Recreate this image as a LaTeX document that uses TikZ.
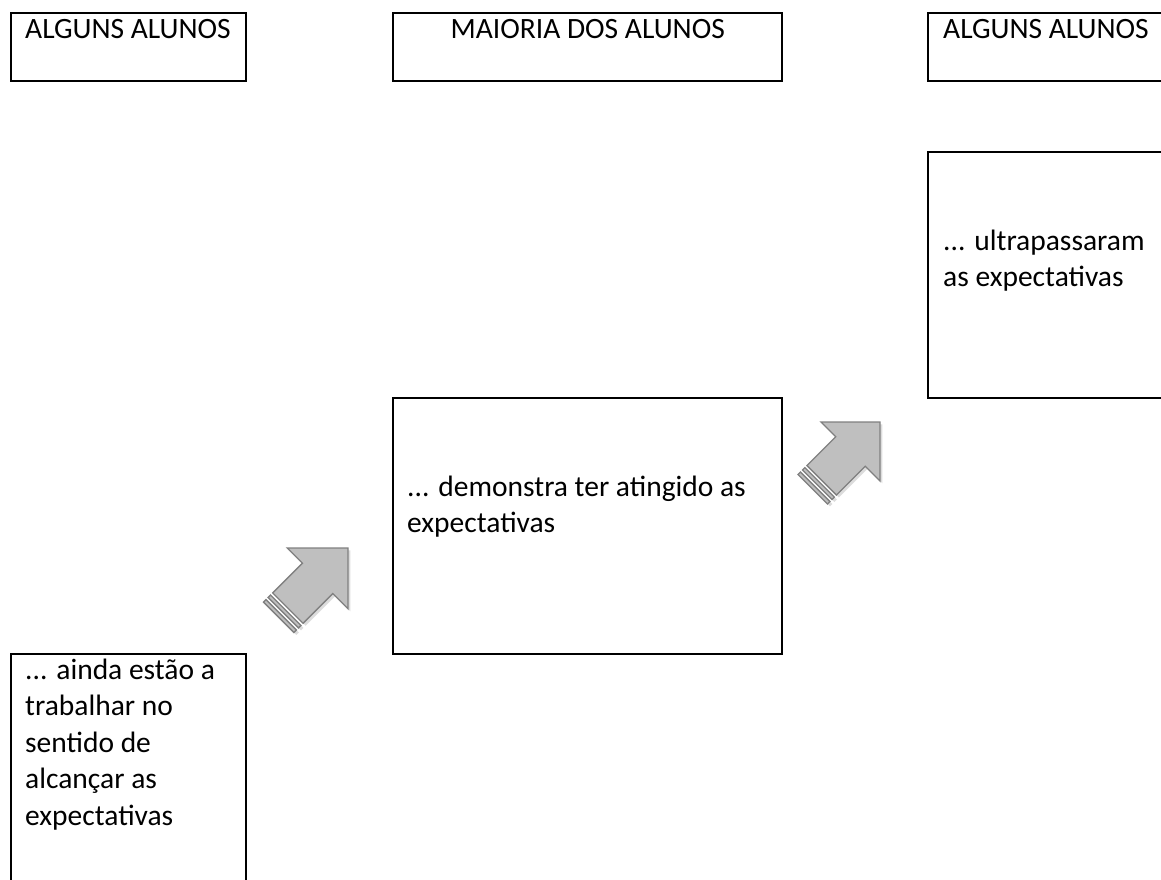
\documentclass[tikz,border=0pt]{standalone}
\usepackage{fontspec}
\setmainfont{Carlito}

\tikzset{
  caixa/.style={draw, line width=2.4pt, anchor=north west, inner sep=0pt},
  texto/.style={font=\fontsize{29.5}{36.5}\selectfont, inner sep=0pt,
                align=left, anchor=north west},
  setacor/.style={fill=gray!50, draw=gray, line width=1.3pt, line join=miter},
  seta/.pic={
    % sombra
    \fill[gray!60, opacity=0.45, shift={(0,3.5)}]
      (0,0) -- (-43,-43) -- (-43,-21.5) -- (-85,-21.5) -- (-85,21.5)
      -- (-43,21.5) -- (-43,43) -- cycle
      (-88,-21.5) rectangle (-91.5,21.5) (-94.5,-21.5) rectangle (-98,21.5);
    % seta
    \draw[setacor] (0,0) -- (-43,-43) -- (-43,-21.5) -- (-85,-21.5)
      -- (-85,21.5) -- (-43,21.5) -- (-43,43) -- cycle;
    \draw[setacor] (-88,-21.5) rectangle (-91.5,21.5);
    \draw[setacor] (-94.5,-21.5) rectangle (-98,21.5);
  }
}

\begin{document}
\begin{tikzpicture}[x=1pt, y=-1pt]
  \useasboundingbox (0,0) rectangle (1161,880);
  \clip (0,0) rectangle (1161,880);

  % caixas de cima
  \node[caixa, minimum width=235, minimum height=68] (alguns1) at (10,12) {};
  \node[caixa, minimum width=389, minimum height=68] (maioria) at (392,12) {};
  \node[caixa, minimum width=260, minimum height=68] (alguns2) at (927,12) {};
  \node[texto] (talguns1) at ([shift={(15,0.5)}]alguns1.north west) {\strut ALGUNS ALUNOS};
  \node[texto, anchor=north] (tmaioria) at ([shift={(0,0.5)}]maioria.north) {\strut MAIORIA DOS ALUNOS};
  \node[texto] (talguns2) at ([shift={(16,0.5)}]alguns2.north west) {\strut ALGUNS ALUNOS};

  % caixas dos niveis
  \node[caixa, minimum width=260, minimum height=246] (ultra) at (927,151) {};
  \node[caixa, minimum width=389, minimum height=256] (demonstra) at (392,397) {};
  \node[caixa, minimum width=235, minimum height=260] (ainda) at (10,653) {};
  \node[texto] (tultra) at ([shift={(16,73.5)}]ultra.north west)
    {\strut ... ultrapassaram\\\strut as expectativas};
  \node[texto] (tdemonstra) at ([shift={(15,73.5)}]demonstra.north west)
    {\strut ... demonstra ter atingido as\\\strut expectativas};
  \node[texto] (tainda) at ([shift={(15,0.5)}]ainda.north west)
    {\strut ... ainda estão a\\\strut trabalhar no\\\strut sentido de\\\strut alcançar as\\\strut expectativas};

  % setas
  \pic[rotate=45] (seta1) at (348,548) {seta};
  \pic[rotate=45, scale=0.97] (seta2) at (880,422) {seta};
\end{tikzpicture}
\end{document}
